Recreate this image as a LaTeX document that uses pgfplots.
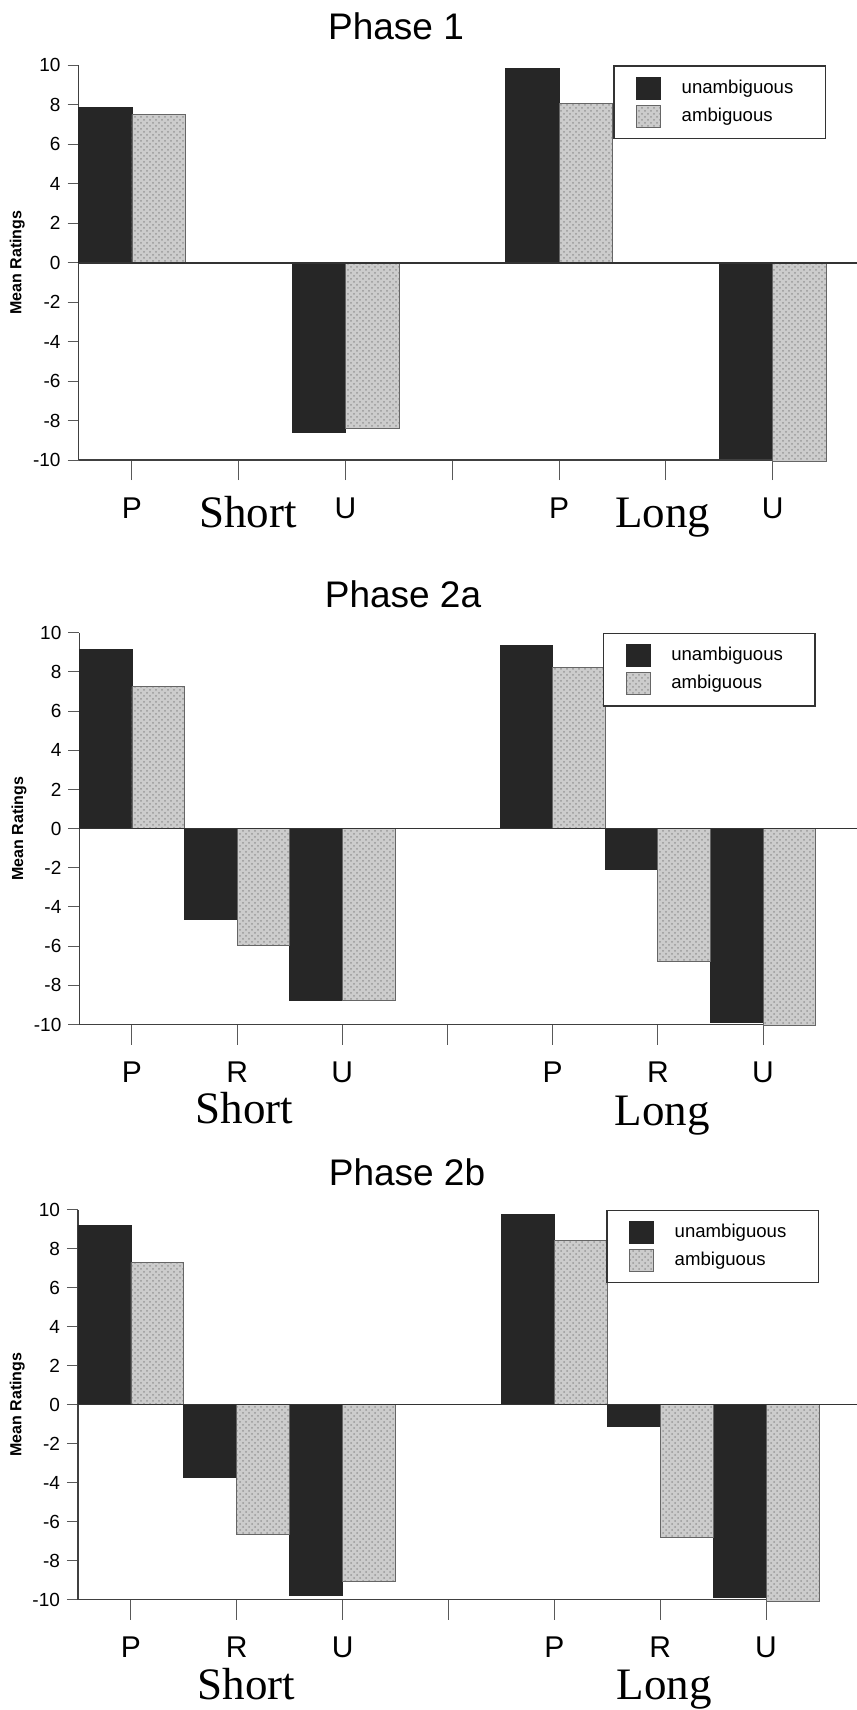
\documentclass[border=0pt]{standalone}
\usepackage{pgfplots}
\pgfplotsset{compat=1.18}
\usepackage{pgfplotstable}
\usepackage{fontspec}
\setmainfont{Liberation Sans}
\newfontfamily\timesfont{Liberation Serif}
\usetikzlibrary{patterns}

% x: 0=P short, 1=R short, 2=U short, 4=P long, 5=R long, 6=U long
\pgfplotstableread{
x un am
0 7.87 7.51
2 -8.60 -8.42
4 9.84 8.05
6 -9.91 -10.07
}\phaseone
\pgfplotstableread{
x un am
0 9.14 7.25
1 -4.65 -5.98
2 -8.77 -8.77
4 9.37 8.23
5 -2.10 -6.78
6 -9.89 -10.04
}\phasetwoa
\pgfplotstableread{
x un am
0 9.20 7.30
1 -3.75 -6.67
2 -9.80 -9.05
4 9.77 8.44
5 -1.14 -6.80
6 -9.90 -10.10
}\phasetwob

\pgfplotsset{
  phase/.style={
    scale only axis, anchor=south west,
    xmin=-0.5, xmax=6.5, ymin=-10, ymax=10,
    axis x line=bottom, axis y line=left,
    axis line style={-, black!75, line width=0.6pt},
    tick align=outside,
    major tick length=5.5pt,
    xtick={0,...,6}, ytick={-10,-8,...,10},
    xtick style={/pgfplots/major tick length=10pt, black!65, line width=0.5pt},
    ytick style={black!65, line width=0.5pt},
    yticklabel style={font=\fontsize{9.5}{10}\selectfont},
    xticklabel style={font=\fontsize{15}{16}\selectfont, inner sep=0pt, yshift=-13pt},
    /pgf/number format/assume math mode=true,
    ylabel={Mean Ratings},
    ylabel style={font=\bfseries\fontsize{8}{9}\selectfont,
      at={(axis description cs:-0.082,0.5)}, anchor=center},
    clip=false,
    legend style={at={(1,1)}, anchor=north east, draw=black!80, line width=0.6pt,
      inner xsep=11pt, inner ysep=5.5pt, row sep=2.5pt,
      font=\fontsize{9.3}{11}\selectfont, nodes={inner sep=0pt},
      /tikz/every odd column/.append style={column sep=10.5pt}},
    legend cell align=left,
    legend image code/.code={\draw[##1] (0pt,-5.5pt) rectangle (12pt,5.5pt);},
  },
  unamb/.style={ybar, bar width=0.5, bar shift=-0.25,
    fill=black!85, draw=black!85, line width=0.4pt},
  amb/.style={ybar, bar width=0.5, bar shift=0.25,
    fill=black!20, draw=black!60, line width=0.4pt,
    postaction={pattern=crosshatch dots, pattern color=black!40}},
}
\tikzset{big/.style={anchor=north, inner sep=0pt, font=\timesfont\fontsize{22.5}{24}\selectfont}}

\begin{document}
\begin{tikzpicture}
\path[use as bounding box] (0,0) rectangle (428.5pt,-855pt);

% Phase 1
\node[inner sep=0pt, font=\fontsize{18.5}{20}\selectfont] at (198pt,-13pt) {Phase 1};
\begin{axis}[phase, at={(39.3pt,-230pt)}, width=373.7pt, height=197.3pt,
  xticklabels={P,,U,,P,,U}]
\addplot[unamb] table[x=x, y=un] {\phaseone};
\addplot[amb] table[x=x, y=am] {\phaseone};
\addplot[black!80, line width=0.8pt, forget plot] coordinates {(-0.5,0) (6.8,0)};
\legend{unambiguous\hspace*{5pt}, ambiguous}
\node[big, yshift=-18pt] at (axis cs:1.086,-10) {Short};
\node[big, yshift=-19pt] at (axis cs:4.97,-10) {Long};
\end{axis}

% Phase 2a
\node[inner sep=0pt, font=\fontsize{18.5}{20}\selectfont] at (201.5pt,-297.3pt) {Phase 2a};
\begin{axis}[phase, at={(39.7pt,-512.25pt)}, width=368.1pt, height=195.9pt,
  xticklabels={P,R,U,,P,R,U}]
\addplot[unamb] table[x=x, y=un] {\phasetwoa};
\addplot[amb] table[x=x, y=am] {\phasetwoa};
\addplot[black!80, line width=0.8pt, forget plot] coordinates {(-0.5,0) (6.9,0)};
\legend{unambiguous\hspace*{5pt}, ambiguous}
\node[big, yshift=-33.75pt] at (axis cs:1.07,-10) {Short};
\node[big, yshift=-35.5pt] at (axis cs:5.04,-10) {Long};
\end{axis}

% Phase 2b
\node[inner sep=0pt, font=\fontsize{18.5}{20}\selectfont] at (203.5pt,-586.3pt) {Phase 2b};
\begin{axis}[phase, at={(39pt,-799.8pt)}, width=370.5pt, height=195pt,
  xticklabels={P,R,U,,P,R,U}]
\addplot[unamb] table[x=x, y=un] {\phasetwob};
\addplot[amb] table[x=x, y=am] {\phasetwob};
\addplot[black!80, line width=0.8pt, forget plot] coordinates {(-0.5,0) (6.9,0)};
\legend{unambiguous\hspace*{5pt}, ambiguous}
\node[big, yshift=-34.3pt] at (axis cs:1.09,-10) {Short};
\node[big, yshift=-35pt] at (axis cs:5.04,-10) {Long};
\end{axis}
\end{tikzpicture}
\end{document}
